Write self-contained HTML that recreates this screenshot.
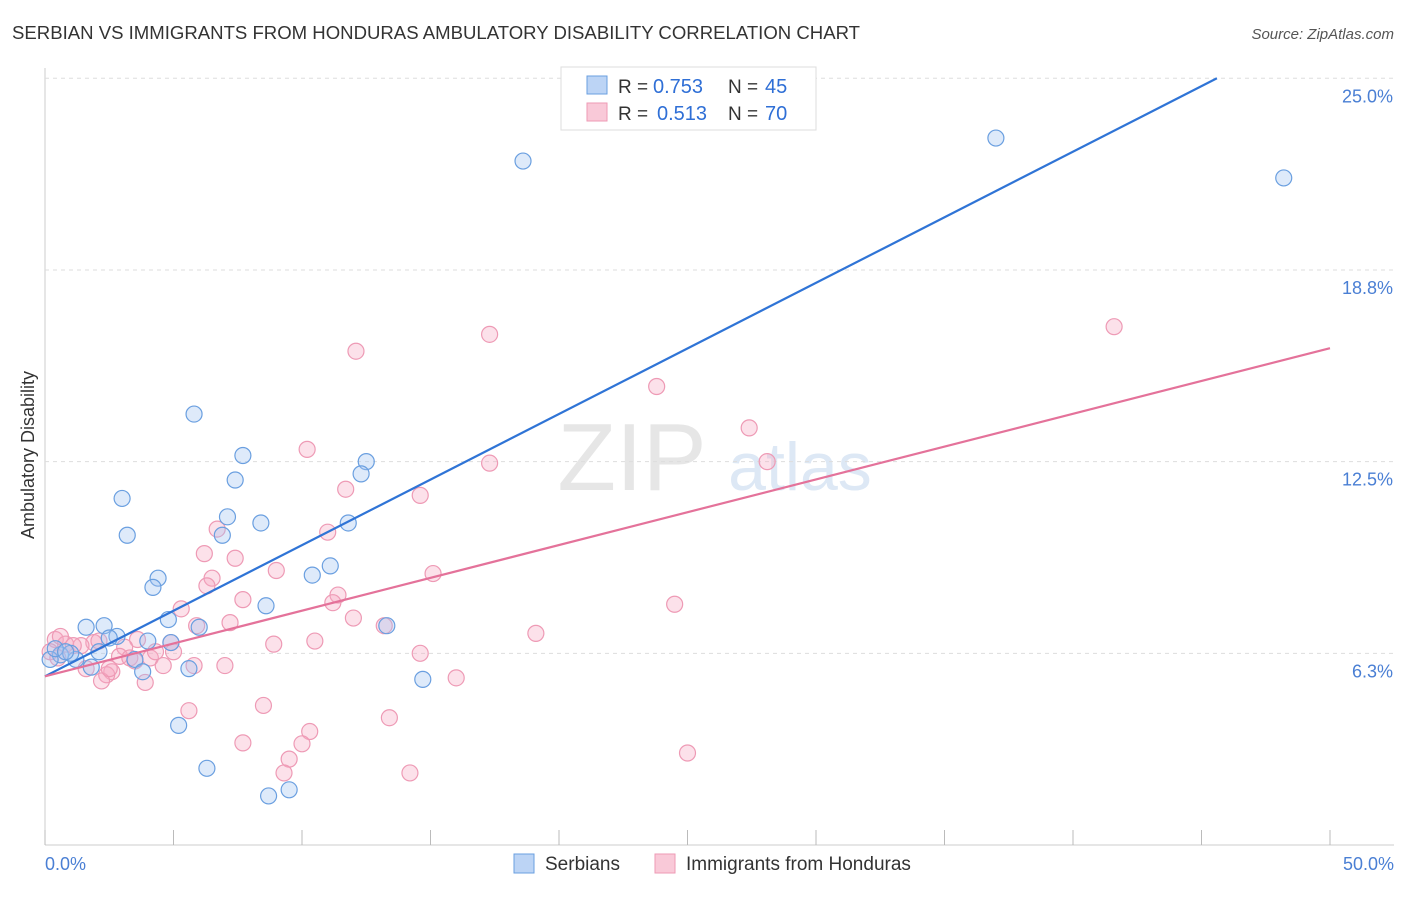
<!DOCTYPE html>
<html><head><meta charset="utf-8"><style>
body{margin:0;background:#fff;font-family:"Liberation Sans",sans-serif}
svg text{font-family:"Liberation Sans",sans-serif}
</style></head><body>
<svg id="c" width="1406" height="892">
<text x="12" y="39" font-size="18" fill="#333" textLength="848" lengthAdjust="spacingAndGlyphs">SERBIAN VS IMMIGRANTS FROM HONDURAS AMBULATORY DISABILITY CORRELATION CHART</text>
<text x="1394" y="39" font-size="15" fill="#555" font-style="italic" text-anchor="end">Source: ZipAtlas.com</text>
<text x="632" y="490" font-size="96" fill="#e6e6e6" font-family="Liberation Serif" text-anchor="middle">ZIP</text>
<text x="800" y="490" font-size="68" fill="#dde8f5" text-anchor="middle">atlas</text>
<text x="34" y="455" font-size="18" fill="#333" transform="rotate(-90 34 455)" text-anchor="middle">Ambulatory Disability</text>
<g id="grid"></g><g id="pts"></g><g id="lines"></g>
<g>
<rect x="561" y="67" width="255" height="63" fill="#fff" stroke="#ddd"/>
<rect x="587" y="76" width="20" height="18" fill="#bcd4f5" stroke="#6a9fe0"/>
<rect x="587" y="103" width="20" height="18" fill="#f9c9d8" stroke="#ee9ab5"/>
<text x="618" y="93" font-size="19" fill="#333">R =</text>
<text x="653" y="93" font-size="20" fill="#2f6fd6">0.753</text>
<text x="728" y="93" font-size="19" fill="#333">N =</text>
<text x="765" y="93" font-size="20" fill="#2f6fd6">45</text>
<text x="618" y="120" font-size="19" fill="#333">R =</text>
<text x="657" y="120" font-size="20" fill="#2f6fd6">0.513</text>
<text x="728" y="120" font-size="19" fill="#333">N =</text>
<text x="765" y="120" font-size="20" fill="#2f6fd6">70</text>
</g>
<g>
<rect x="514" y="854" width="20" height="19" fill="#bcd4f5" stroke="#6a9fe0"/>
<text x="545" y="870" font-size="19" fill="#333">Serbians</text>
<rect x="655" y="854" width="20" height="19" fill="#f9c9d8" stroke="#ee9ab5"/>
<text x="686" y="870" font-size="19" fill="#333">Immigrants from Honduras</text>
</g>
</svg>
<script>
const yTicks=[6.25,12.5,18.75,25];
const yTickLabels=["6.3%","12.5%","18.8%","25.0%"];
const serbX=[18.6,37.0,48.2,26.1,5.8,3.0,3.2,7.7,7.4,7.1,6.9,8.4,12.5,12.3,11.8,11.1,10.4,4.4,4.2,8.6,13.3,4.8,6.0,1.6,2.3,2.8,2.5,4.0,4.9,2.1,0.6,1.2,0.2,3.5,1.8,3.8,5.6,14.7,5.2,6.3,8.7,9.5,0.4,1.0,0.8];
const serbY=[22.3,23.05,21.75,24.6,14.05,11.3,10.1,12.7,11.9,10.7,10.1,10.5,12.5,12.1,10.5,9.1,8.8,8.7,8.4,7.8,7.15,7.35,7.1,7.1,7.15,6.8,6.75,6.65,6.6,6.3,6.2,6.05,6.05,6.05,5.8,5.65,5.75,5.4,3.9,2.5,1.6,1.8,6.4,6.25,6.3];
const hondX=[17.3,12.1,41.6,23.8,27.4,28.1,10.2,17.3,11.7,14.6,6.7,11.0,6.2,7.4,15.1,9.0,6.5,6.3,7.7,11.4,11.2,5.3,24.5,12.0,7.2,5.9,13.2,19.1,10.5,8.9,14.6,3.6,3.1,5.0,1.9,1.4,2.1,0.4,0.8,0.2,2.9,4.1,4.6,5.8,7.0,2.6,1.6,2.4,2.2,3.9,16.0,5.6,8.5,13.4,10.3,7.7,10.0,9.5,9.3,14.2,25.0,0.6,1.1,3.3,4.3,4.9,2.5,3.5,0.5];
const hondY=[16.65,16.1,16.9,14.95,13.6,12.5,12.9,12.45,11.6,11.4,10.3,10.2,9.5,9.35,8.85,8.95,8.7,8.45,8.0,8.15,7.9,7.7,7.85,7.4,7.25,7.15,7.15,6.9,6.65,6.55,6.25,6.7,6.45,6.3,6.6,6.5,6.65,6.7,6.55,6.3,6.15,6.1,5.85,5.85,5.85,5.65,5.75,5.55,5.35,5.3,5.45,4.38,4.55,4.15,3.7,3.33,3.3,2.8,2.35,2.35,3.0,6.8,6.5,6.1,6.3,6.6,5.75,6.0,6.1];
const serbLine=[0,5.5,45.6,25];
const hondLine=[0,5.5,50,16.2];
const X=v=>45+v/50*1285, Y=v=>845-v*30.67;
const ns="http://www.w3.org/2000/svg";
function mk(t,a,p){const e=document.createElementNS(ns,t);for(const k in a)e.setAttribute(k,a[k]);p.appendChild(e);return e;}
const g=document.getElementById('grid');
mk('line',{x1:45,y1:68,x2:45,y2:845,stroke:'#ccc'},g);
mk('line',{x1:45,y1:845,x2:1394,y2:845,stroke:'#ccc'},g);
for(let i=0;i<=10;i++){const t=mk('line',{x1:X(i*5),y1:845,x2:X(i*5),y2:830,stroke:'#bbb'},g);}
yTicks.forEach((v,i)=>{const l=mk('line',{x1:45,y1:Y(v),x2:1394,y2:Y(v),stroke:'#ddd','stroke-dasharray':'4,4'},g);
const t=mk('text',{x:1393,y:Y(v)+24,'font-size':18,fill:'#4a7fd4','text-anchor':'end'},g);t.textContent=yTickLabels[i];});
const a=mk('text',{x:45,y:870,'font-size':18,fill:'#4a7fd4'},g);a.textContent='0.0%';
const b=mk('text',{x:1394,y:870,'font-size':18,fill:'#4a7fd4','text-anchor':'end'},g);b.textContent='50.0%';
const p=document.getElementById('pts');
hondX.forEach((x,i)=>{const c=mk('circle',{cx:X(x),cy:Y(hondY[i]),r:8,fill:'rgba(246,170,195,0.35)',stroke:'#ee9ab5','stroke-width':1.2},p);});
serbX.forEach((x,i)=>{const c=mk('circle',{cx:X(x),cy:Y(serbY[i]),r:8,fill:'rgba(160,195,240,0.35)',stroke:'#6a9fe0','stroke-width':1.2},p);});
const L=document.getElementById('lines');
const l1=mk('line',{x1:X(serbLine[0]),y1:Y(serbLine[1]),x2:X(serbLine[2]),y2:Y(serbLine[3]),stroke:'#2f74d6','stroke-width':2.2},L);

const l2=mk('line',{x1:X(hondLine[0]),y1:Y(hondLine[1]),x2:X(hondLine[2]),y2:Y(hondLine[3]),stroke:'#e4729a','stroke-width':2.2},L);

</script>
</body></html>
